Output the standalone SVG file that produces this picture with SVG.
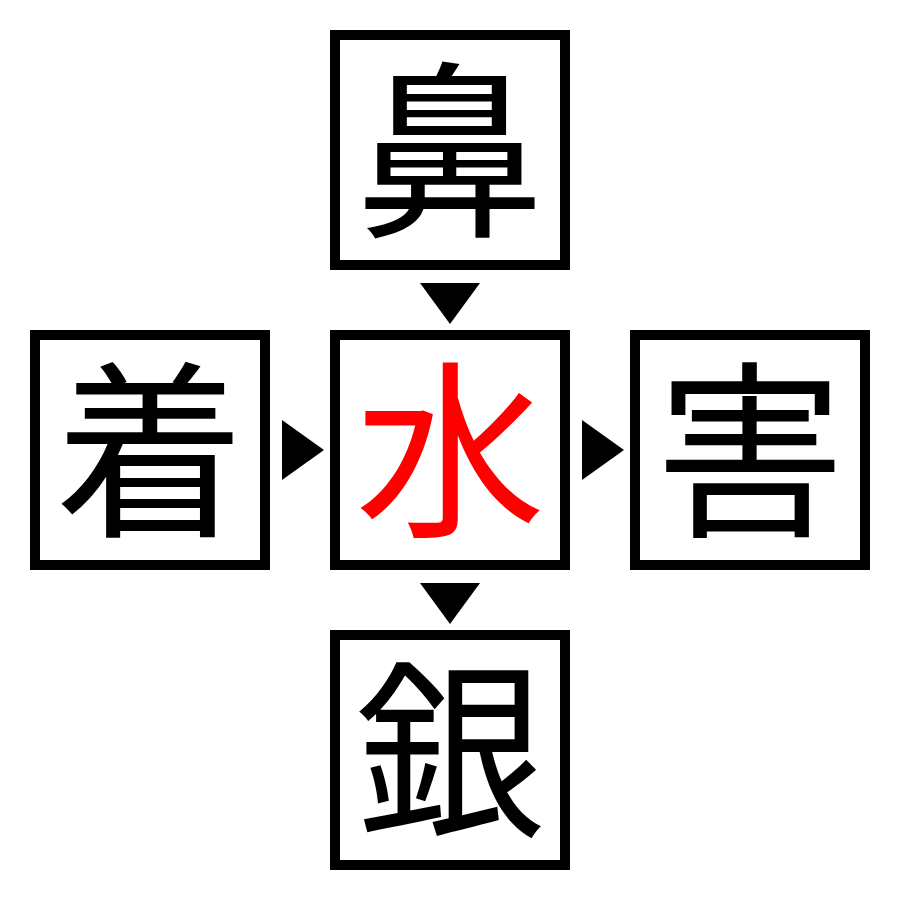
<svg xmlns="http://www.w3.org/2000/svg" width="900" height="900" viewBox="0 0 900 900">
<style>
.box{fill:#fff;stroke:#000;stroke-width:10}
.ch{font-family:"Noto Sans CJK JP","Noto Sans CJK SC",sans-serif;font-size:190px;text-anchor:middle;fill:#000}
.red{fill:#ff0000}
.arr{fill:#000}
</style>
<rect width="900" height="900" fill="#fff"/>
<g id="node-top"><rect class="box" x="335" y="35" width="230" height="230"/><text class="ch" x="450" y="222">鼻</text></g>
<g id="node-left"><rect class="box" x="35" y="335" width="230" height="230"/><text class="ch" x="150" y="522">着</text></g>
<g id="node-center"><rect class="box" x="335" y="335" width="230" height="230"/><text class="ch red" x="450" y="522">水</text></g>
<g id="node-right"><rect class="box" x="635" y="335" width="230" height="230"/><text class="ch" x="750" y="522">害</text></g>
<g id="node-bottom"><rect class="box" x="335" y="635" width="230" height="230"/><text class="ch" x="450" y="822">銀</text></g>
<g id="connectors">
<polygon class="arr" points="420,283 480,283 450,324"/>
<polygon class="arr" points="282,420 282,480 324,450"/>
<polygon class="arr" points="582,420 582,480 624,450"/>
<polygon class="arr" points="420,583 480,583 450,624"/>
</g>
</svg>
